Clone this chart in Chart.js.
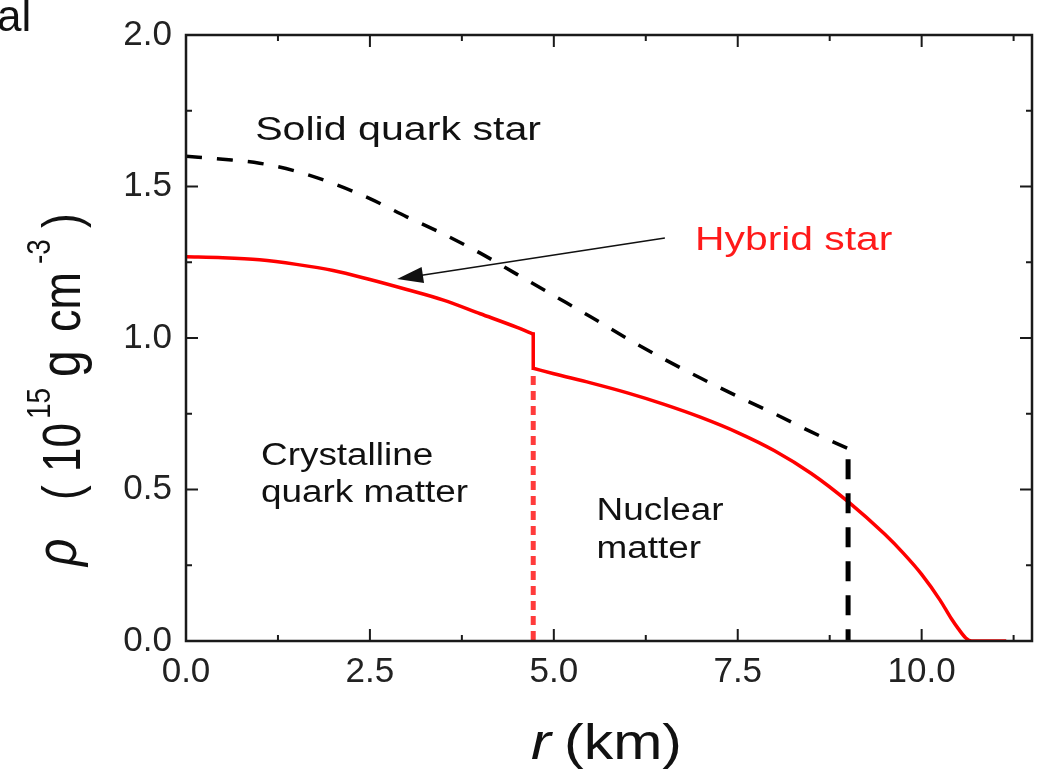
<!DOCTYPE html>
<html>
<head>
<meta charset="utf-8">
<title>Density profiles</title>
<script src="https://cdn.jsdelivr.net/npm/chart.js@4.4.1/dist/chart.umd.min.js"></script>
<style>
  html, body { margin: 0; padding: 0; background: #fff; }
  #wrap { width: 1041px; height: 774px; }
</style>
</head>
<body>
<div id="wrap"><canvas id="densityChart" width="1041" height="774"></canvas></div>
<script>
// Density profiles, r in km, rho in 10^15 g cm^-3
// hybrid star: quark core, then the density jump, then the nuclear mantle
const coreR     = [0, 0.5, 1, 1.5, 2, 2.5, 3, 3.5, 4, 4.5, 4.72];
const coreRho   = [1.268, 1.265, 1.258, 1.243, 1.223, 1.193, 1.16, 1.125, 1.08, 1.035, 1.013];
const jumpR     = [4.72, 4.72];
const jumpRho   = [1.013, 0.900];
const mantleR   = [4.72, 5, 5.5, 6, 6.5, 7, 7.5, 8, 8.5, 9, 9.5, 9.75, 10, 10.25, 10.4, 10.5, 10.6, 10.68, 11.15];
const mantleRho = [0.900, 0.882, 0.852, 0.819, 0.781, 0.738, 0.688, 0.628, 0.553, 0.46, 0.352, 0.29, 0.22, 0.135, 0.075, 0.04, 0.01, 0.0, 0.0];

const solidR   = [0, 0.5, 1, 1.5, 2, 2.5, 3, 3.5, 4, 4.5, 5, 5.5, 6, 6.5, 7, 7.5, 8, 8.5, 9];
const solidRho = [1.60, 1.59, 1.577, 1.55, 1.51, 1.46, 1.40, 1.343, 1.28, 1.21, 1.14, 1.07, 0.998, 0.93, 0.867, 0.807, 0.75, 0.69, 0.635];

// phase boundaries
const quarkEdgeR   = [4.72, 4.72];
const quarkEdgeRho = [0.875, 0];
const surfaceR     = [9.0, 9.0];
const surfaceRho   = [0.60, 0];

// axes
const xTicks = [0, 2.5, 5, 7.5, 10];
const xMinor = [1.25, 3.75, 6.25, 8.75, 11.25];
const yTicks = [0, 0.5, 1, 1.5, 2];
const yMinor = [0.25, 0.75, 1.25, 1.75];

function toPoints(xs, ys) {
  return xs.map((x, i) => ({ x: x, y: ys[i] }));
}

const SANS = '"Liberation Sans", Arial, sans-serif';

// draws text with an optional horizontal stretch
function stretchedText(ctx, text, x, y, font, color, sx) {
  ctx.save();
  ctx.translate(x, y);
  ctx.scale(sx, 1);
  ctx.font = font;
  ctx.fillStyle = color;
  ctx.textAlign = 'left';
  ctx.textBaseline = 'middle';
  ctx.fillText(text, 0, 0);
  ctx.restore();
}

// frame, inward ticks, labels, arrow and axis titles
const decorations = {
  id: 'decorations',
  afterDatasetsDraw(chart) {
    const ctx = chart.ctx;
    const xs = chart.scales.x, ys = chart.scales.y;
    const a = chart.chartArea;

    ctx.save();
    ctx.strokeStyle = '#1a1a1a';
    ctx.lineWidth = 2.5;
    ctx.strokeRect(a.left, a.top, a.right - a.left, a.bottom - a.top);

    ctx.lineWidth = 2;
    ctx.beginPath();
    const tickX = (v, len) => {
      const p = xs.getPixelForValue(v);
      ctx.moveTo(p, a.bottom); ctx.lineTo(p, a.bottom - len);
      ctx.moveTo(p, a.top); ctx.lineTo(p, a.top + len);
    };
    const tickY = (v, len) => {
      const p = ys.getPixelForValue(v);
      ctx.moveTo(a.left, p); ctx.lineTo(a.left + len, p);
      ctx.moveTo(a.right, p); ctx.lineTo(a.right - len, p);
    };
    xTicks.forEach(v => tickX(v, 12));
    xMinor.forEach(v => tickX(v, 6));
    yTicks.forEach(v => tickY(v, 12));
    yMinor.forEach(v => tickY(v, 6));
    ctx.stroke();

    // annotations
    const px = v => xs.getPixelForValue(v);
    const py = v => ys.getPixelForValue(v);
    stretchedText(ctx, 'Solid quark star', px(0.94), py(1.685), '34px ' + SANS, '#111', 1.21);
    stretchedText(ctx, 'Hybrid star', px(6.92), py(1.323), '34px ' + SANS, '#ff1a1a', 1.2);
    stretchedText(ctx, 'Crystalline', px(1.02), py(0.608), '31px ' + SANS, '#111', 1.19);
    stretchedText(ctx, 'quark matter', px(1.02), py(0.486), '31px ' + SANS, '#111', 1.19);
    stretchedText(ctx, 'Nuclear', px(5.58), py(0.427), '31px ' + SANS, '#111', 1.19);
    stretchedText(ctx, 'matter', px(5.58), py(0.302), '31px ' + SANS, '#111', 1.19);

    // arrow pointing at the hybrid star curve
    const x0 = px(6.51), y0 = py(1.33), x1 = px(2.87), y1 = py(1.195);
    const ang = Math.atan2(y1 - y0, x1 - x0);
    ctx.strokeStyle = '#111';
    ctx.fillStyle = '#111';
    ctx.lineWidth = 1.5;
    ctx.beginPath();
    ctx.moveTo(x0, y0);
    ctx.lineTo(x1 - 20 * Math.cos(ang), y1 - 20 * Math.sin(ang));
    ctx.stroke();
    ctx.beginPath();
    ctx.moveTo(x1, y1);
    ctx.lineTo(x1 - 26 * Math.cos(ang) + 8 * Math.sin(ang), y1 - 26 * Math.sin(ang) - 8 * Math.cos(ang));
    ctx.lineTo(x1 - 26 * Math.cos(ang) - 8 * Math.sin(ang), y1 - 26 * Math.sin(ang) + 8 * Math.cos(ang));
    ctx.closePath();
    ctx.fill();

    // x title
    stretchedText(ctx, 'r', 531, 745, 'italic 50px ' + SANS, '#111', 1.2);
    stretchedText(ctx, '(km)', 564, 745, '50px ' + SANS, '#111', 1.18);

    // y title, read bottom to top
    const yParts = [
      { t: 'ρ',    at: 566, base: 76, font: 'italic 48px ' + SANS },
      { t: '(',    at: 500, base: 80, font: '44px ' + SANS },
      { t: '10',   at: 472, base: 80, font: '44px ' + SANS },
      { t: '15',   at: 419, base: 50, font: '28px ' + SANS },
      { t: 'g',    at: 377, base: 80, font: '48px ' + SANS },
      { t: 'cm',   at: 332, base: 80, font: '45px ' + SANS },
      { t: '-3',   at: 264, base: 50, font: '28px ' + SANS },
      { t: ')',    at: 228, base: 80, font: '44px ' + SANS }
    ];
    yParts.forEach(p => {
      ctx.save();
      ctx.translate(p.base, p.at);
      ctx.rotate(-Math.PI / 2);
      ctx.scale(1, 1.2);
      ctx.font = p.font;
      ctx.fillStyle = '#111';
      ctx.textAlign = 'left';
      ctx.textBaseline = 'alphabetic';
      ctx.fillText(p.t, 0, 0);
      ctx.restore();
    });

    // panel letter
    ctx.font = '44px ' + SANS;
    ctx.fillStyle = '#111';
    ctx.textBaseline = 'alphabetic';
    ctx.fillText('al', -3, 31);
    ctx.restore();
  }
};

const curve = {
  showLine: true,
  pointRadius: 0,
  cubicInterpolationMode: 'monotone'
};

new Chart(document.getElementById('densityChart'), {
  type: 'scatter',
  data: {
    datasets: [
      {
        label: 'surface',
        data: toPoints(surfaceR, surfaceRho),
        showLine: true,
        borderColor: '#000',
        borderWidth: 5,
        borderDash: [20, 14],
        pointRadius: 0
      },
      {
        label: 'quark/nuclear boundary',
        data: toPoints(quarkEdgeR, quarkEdgeRho),
        showLine: true,
        borderColor: '#ff3b3b',
        borderWidth: 5,
        borderDash: [9, 6],
        pointRadius: 0
      },
      Object.assign({ label: 'Hybrid star core', data: toPoints(coreR, coreRho), borderColor: '#ff0000', borderWidth: 3.5 }, curve),
      {
        label: 'Hybrid star jump',
        data: toPoints(jumpR, jumpRho),
        showLine: true,
        borderColor: '#ff0000',
        borderWidth: 3.5,
        borderCapStyle: 'square',
        pointRadius: 0
      },
      Object.assign({ label: 'Hybrid star mantle', data: toPoints(mantleR, mantleRho), borderColor: '#ff0000', borderWidth: 3.5 }, curve),
      Object.assign({ label: 'Solid quark star', data: toPoints(solidR, solidRho), borderColor: '#000', borderWidth: 3.5, borderDash: [16, 15] }, curve)
    ]
  },
  options: {
    responsive: false,
    animation: false,
    devicePixelRatio: 1,
    layout: { padding: { top: 32, right: 9, left: 0, bottom: 0 } },
    plugins: { legend: { display: false }, tooltip: { enabled: false } },
    scales: {
      x: {
        type: 'linear',
        min: 0,
        max: 11.5,
        afterBuildTicks: s => { s.ticks = xTicks.map(v => ({ value: v })); },
        afterFit: s => { s.height = 133; },
        grid: { display: false, drawTicks: false },
        border: { display: false },
        ticks: {
          autoSkip: false,
          maxRotation: 0,
          padding: 10,
          color: '#222',
          font: { family: SANS, size: 35 },
          callback: v => v.toFixed(1)
        }
      },
      y: {
        type: 'linear',
        min: 0,
        max: 2,
        afterBuildTicks: s => { s.ticks = yTicks.map(v => ({ value: v })); },
        afterFit: s => { s.width = 186; },
        grid: { display: false, drawTicks: false },
        border: { display: false },
        ticks: {
          autoSkip: false,
          padding: 14,
          color: '#222',
          font: { family: SANS, size: 35 },
          callback: v => v.toFixed(1)
        }
      }
    }
  },
  plugins: [decorations]
});
</script>
</body>
</html>
